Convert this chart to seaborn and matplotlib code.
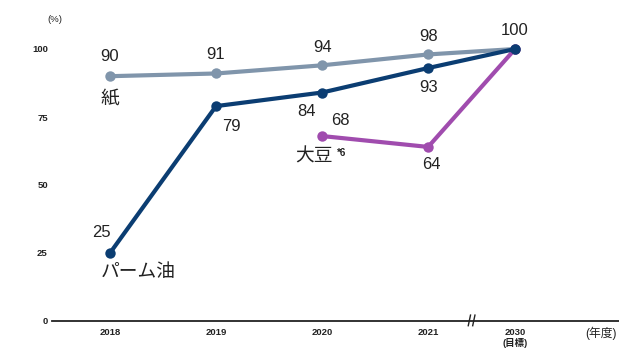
import matplotlib
matplotlib.use("Agg")
import matplotlib.pyplot as plt
import seaborn as sns
import pandas as pd
from matplotlib import transforms

sns.set_theme(style="white")
plt.rcParams['font.family'] = ['Liberation Sans', 'Noto Sans CJK JP']

# ---- data ----
years = ["2018", "2019", "2020", "2021", "2030"]
paper = [90, 91, 94, 98, 100]
palm = [25, 79, 84, 93, 100]
soy_years = ["2020", "2021", "2030"]
soy = [68, 64, 100]
y_ticks = [0, 25, 50, 75, 100]
year_labels = ["2018", "2019", "2020", "2021", "2030\n(目標)"]

# compressed spacing for the jump from 2021 to the 2030 target
x_of = {"2018": 0.0, "2019": 1.0, "2020": 2.0, "2021": 3.0, "2030": 3.82}

df = pd.concat([
    pd.DataFrame({"year": years, "value": paper, "series": "紙"}),
    pd.DataFrame({"year": soy_years, "value": soy, "series": "大豆"}),
    pd.DataFrame({"year": years, "value": palm, "series": "パーム油"}),
])
df["x"] = df["year"].map(x_of)

colors = {"紙": "#8095ab", "大豆": "#a04cae", "パーム油": "#0b3d72"}

fig = plt.figure(figsize=(6.19, 3.54), dpi=100)
ax = fig.add_axes([52 / 619, 33 / 354, 567 / 619, 299.2 / 354])

sns.lineplot(data=df, x="x", y="value", hue="series", palette=colors,
             hue_order=["紙", "大豆", "パーム油"], sort=False,
             marker="o", markersize=7.5, markeredgewidth=0, linewidth=3.0,
             legend=False, ax=ax)

ax.set_xlim(-0.547, 4.80)
ax.set_ylim(0, 110)
ax.set_xlabel("")
ax.set_ylabel("")
for s in ["top", "right", "left"]:
    ax.spines[s].set_visible(False)
ax.spines["bottom"].set_color("#222222")
ax.spines["bottom"].set_linewidth(1.3)

ax.set_yticks(y_ticks)
ax.set_yticklabels([str(v) for v in y_ticks], fontsize=6.8, color="#222222",
                   fontweight="bold")
ax.set_xticks([x_of[y] for y in years])
ax.set_xticklabels(year_labels, fontsize=6.8, color="#222222", linespacing=1.1,
                   va="top", fontweight="bold")
ax.tick_params(axis="y", length=0, pad=3)
ax.tick_params(axis="x", length=0, pad=5)
ax.grid(False)

# value labels
lab_kw = dict(fontsize=12, color="#222222", ha="center", va="center")
def lab(x, y, text, dx, dy, **kw):
    k = dict(lab_kw)
    k.update(kw)
    ax.annotate(text, (x, y), xytext=(dx, dy), textcoords="offset points", **k)

paper_off = [(0, 14), (0, 14), (0, 13), (0, 13), (0, 13)]
for yr, v, (dx, dy) in zip(years, paper, paper_off):
    lab(x_of[yr], v, str(v), dx, dy)
palm_off = [(-6, 15), (11, -15), (-11, -14), (0, -14), None]
for yr, v, off in zip(years, palm, palm_off):
    if off is not None:
        lab(x_of[yr], v, str(v), *off)
soy_off = [(13, 11), (2, -13), None]
for yr, v, off in zip(soy_years, soy, soy_off):
    if off is not None:
        lab(x_of[yr], v, str(v), *off)

# series names
lab(x_of["2018"], paper[0], "紙", 0, -17, fontsize=13.5)
lab(x_of["2018"], palm[0], "パーム油", -7, -14, ha="left", fontsize=13.5)
lab(x_of["2020"], soy[0], "大豆", -6, -15, fontsize=13.5)
lab(x_of["2020"], soy[0], "*6", 10.5, -12, fontsize=7, ha="left",
    fontweight="bold")

# unit labels
ax.text(-0.52, 111, "(%)", fontsize=6.8, color="#222222", ha="center",
        va="center", clip_on=False)
ax.annotate("(年度)", (1.0, 0), xycoords="axes fraction", xytext=(-1.5, -9),
            textcoords="offset points", fontsize=8.5, color="#222222",
            ha="right", va="center")

# axis break mark between 2021 and 2030
bx = (x_of["2021"] + x_of["2030"]) / 2 - 0.0
trans = transforms.blended_transform_factory(ax.transData, ax.transAxes)
for off in (-1.6, 1.6):
    t = trans + transforms.ScaledTranslation(off / 72, 0, fig.dpi_scale_trans)
    ax.plot([bx - 0.012, bx + 0.012], [-0.018, 0.022], transform=t,
            color="#222222", lw=1.0, clip_on=False, solid_capstyle="butt")

fig.savefig("out.png", dpi=100)
